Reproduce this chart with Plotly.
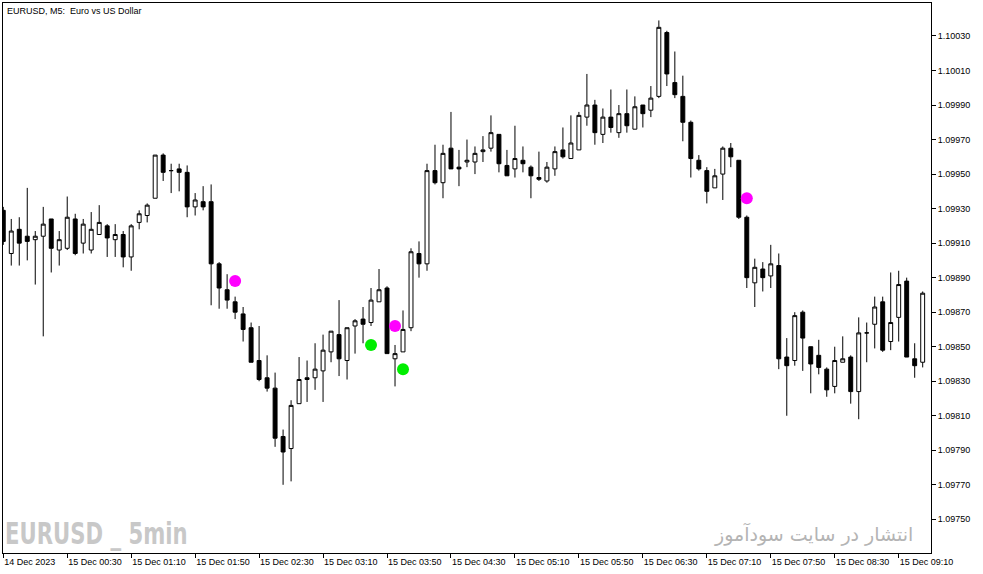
import plotly.graph_objects as go
import pandas as pd

# ---- data (EURUSD M5) ----
bar_times = pd.date_range("2023-12-14 23:50", periods=116, freq="5min")

opens = [1.09929, 1.09904, 1.09918, 1.09914, 1.09912, 1.09914, 1.09924, 1.09906, 1.09907, 1.09924,
         1.09910, 1.09906, 1.09915, 1.09920, 1.09912, 1.09915, 1.09902, 1.09922, 1.09926, 1.09936,
         1.09961, 1.09952, 1.09953, 1.09951, 1.09931, 1.09934, 1.09934, 1.09898, 1.09883, 1.09876,
         1.09869, 1.09861, 1.09842, 1.09832, 1.09826, 1.09798, 1.09791, 1.09817, 1.09832, 1.09832,
         1.09836, 1.09847, 1.09857, 1.09842, 1.09862, 1.09866, 1.09864, 1.09876, 1.09884, 1.09843,
         1.09847, 1.09861, 1.09904, 1.09898, 1.09952, 1.09945, 1.09965, 1.09954, 1.09957, 1.09957,
         1.09963, 1.09965, 1.09973, 1.09955, 1.09953, 1.09958, 1.09954, 1.09948, 1.09946, 1.09953,
         1.09964, 1.09959, 1.09964, 1.09983, 1.09990, 1.09973, 1.09983, 1.09974, 1.09985, 1.09976,
         1.09990, 1.09987, 1.09995, 1.10032, 1.10003, 1.09995, 1.09980, 1.09958, 1.09952, 1.09942,
         1.09950, 1.09965, 1.09958, 1.09925, 1.09887, 1.09895, 1.09891, 1.09897, 1.09844, 1.09842,
         1.09870, 1.09850, 1.09845, 1.09837, 1.09827, 1.09841, 1.09844, 1.09824, 1.09858, 1.09863,
         1.09876, 1.09853, 1.09867, 1.09888, 1.09843, 1.09841]
highs = [1.09931, 1.09924, 1.09925, 1.09942, 1.09917, 1.09931, 1.09924, 1.09917, 1.09937, 1.09927,
         1.09924, 1.09928, 1.09932, 1.09921, 1.09921, 1.09917, 1.09921, 1.09929, 1.09933, 1.09961,
         1.09962, 1.09956, 1.09956, 1.09955, 1.09939, 1.09943, 1.09944, 1.09899, 1.09892, 1.09879,
         1.09873, 1.09864, 1.09862, 1.09845, 1.09835, 1.09802, 1.09819, 1.09844, 1.09842, 1.09852,
         1.09857, 1.09859, 1.09877, 1.09861, 1.09866, 1.09873, 1.09884, 1.09895, 1.09885, 1.09851,
         1.09871, 1.09907, 1.09911, 1.09956, 1.09967, 1.09967, 1.09986, 1.09964, 1.09970, 1.09966,
         1.09972, 1.09984, 1.09973, 1.09964, 1.09978, 1.09966, 1.09955, 1.09963, 1.09957, 1.09966,
         1.09977, 1.09984, 1.09986, 1.10008, 1.09993, 1.09988, 1.09999, 1.09990, 1.09999, 1.09995,
         1.09990, 1.10001, 1.10039, 1.10033, 1.10021, 1.10007, 1.09981, 1.09961, 1.09954, 1.09953,
         1.09966, 1.09968, 1.09958, 1.09926, 1.09901, 1.09899, 1.09909, 1.09904, 1.09855, 1.09870,
         1.09871, 1.09850, 1.09854, 1.09838, 1.09850, 1.09856, 1.09845, 1.09867, 1.09864, 1.09879,
         1.09879, 1.09893, 1.09894, 1.09890, 1.09852, 1.09882]
lows = [1.09909, 1.09897, 1.09897, 1.09900, 1.09886, 1.09856, 1.09893, 1.09897, 1.09906, 1.09903,
        1.09904, 1.09904, 1.09915, 1.09902, 1.09902, 1.09896, 1.09894, 1.09918, 1.09922, 1.09936,
        1.09946, 1.09939, 1.09940, 1.09925, 1.09926, 1.09929, 1.09874, 1.09872, 1.09872, 1.09866,
        1.09853, 1.09841, 1.09830, 1.09824, 1.09792, 1.09770, 1.09772, 1.09817, 1.09818, 1.09825,
        1.09818, 1.09841, 1.09833, 1.09831, 1.09846, 1.09852, 1.09862, 1.09876, 1.09846, 1.09827,
        1.09847, 1.09859, 1.09890, 1.09894, 1.09944, 1.09936, 1.09953, 1.09943, 1.09954, 1.09950,
        1.09957, 1.09963, 1.09951, 1.09949, 1.09948, 1.09951, 1.09936, 1.09946, 1.09945, 1.09949,
        1.09959, 1.09959, 1.09964, 1.09978, 1.09967, 1.09968, 1.09974, 1.09971, 1.09974, 1.09976,
        1.09977, 1.09983, 1.09994, 1.10001, 1.09994, 1.09969, 1.09948, 1.09952, 1.09933, 1.09942,
        1.09935, 1.09954, 1.09924, 1.09884, 1.09873, 1.09882, 1.09884, 1.09837, 1.09810, 1.09839,
        1.09836, 1.09823, 1.09834, 1.09821, 1.09823, 1.09841, 1.09817, 1.09808, 1.09841, 1.09849,
        1.09847, 1.09848, 1.09853, 1.09844, 1.09832, 1.09838]
closes = [1.09911, 1.09917, 1.09910, 1.09911, 1.09914, 1.09921, 1.09907, 1.09912, 1.09925, 1.09904,
          1.09921, 1.09918, 1.09922, 1.09913, 1.09915, 1.09902, 1.09920, 1.09927, 1.09932, 1.09961,
          1.09951, 1.09952, 1.09951, 1.09931, 1.09935, 1.09931, 1.09898, 1.09884, 1.09877, 1.09870,
          1.09860, 1.09841, 1.09831, 1.09826, 1.09797, 1.09789, 1.09816, 1.09831, 1.09831, 1.09837,
          1.09848, 1.09859, 1.09843, 1.09861, 1.09865, 1.09863, 1.09877, 1.09883, 1.09846, 1.09846,
          1.09860, 1.09905, 1.09898, 1.09952, 1.09945, 1.09962, 1.09953, 1.09953, 1.09958, 1.09962,
          1.09964, 1.09974, 1.09956, 1.09949, 1.09959, 1.09956, 1.09949, 1.09947, 1.09954, 1.09963,
          1.09960, 1.09968, 1.09984, 1.09990, 1.09974, 1.09983, 1.09977, 1.09985, 1.09978, 1.09989,
          1.09985, 1.09994, 1.10035, 1.10008, 1.09996, 1.09980, 1.09959, 1.09953, 1.09940, 1.09949,
          1.09965, 1.09960, 1.09925, 1.09890, 1.09896, 1.09890, 1.09898, 1.09843, 1.09839, 1.09868,
          1.09855, 1.09840, 1.09838, 1.09825, 1.09842, 1.09843, 1.09824, 1.09858, 1.09858, 1.09873,
          1.09848, 1.09864, 1.09886, 1.09844, 1.09839, 1.09881]

magenta_times = ["2023-12-15 02:15", "2023-12-15 03:55", "2023-12-15 07:35"]
magenta_prices = [1.09888, 1.09862, 1.09936]
green_times = ["2023-12-15 03:40", "2023-12-15 04:00"]
green_prices = [1.09851, 1.09837]

tick_times = ["2023-12-14 23:50", "2023-12-15 00:30", "2023-12-15 01:10", "2023-12-15 01:50",
              "2023-12-15 02:30", "2023-12-15 03:10", "2023-12-15 03:50", "2023-12-15 04:30",
              "2023-12-15 05:10", "2023-12-15 05:50", "2023-12-15 06:30", "2023-12-15 07:10",
              "2023-12-15 07:50", "2023-12-15 08:30", "2023-12-15 09:10"]
tick_text = ["14 Dec 2023", "15 Dec 00:30", "15 Dec 01:10", "15 Dec 01:50", "15 Dec 02:30",
             "15 Dec 03:10", "15 Dec 03:50", "15 Dec 04:30", "15 Dec 05:10", "15 Dec 05:50",
             "15 Dec 06:30", "15 Dec 07:10", "15 Dec 07:50", "15 Dec 08:30", "15 Dec 09:10"]

title_text = "EURUSD, M5:\u00a0 Euro vs US Dollar"
watermark_left = "EURUSD _ 5min"
watermark_right = "انتشار در سایت سودآموز"

# ---- figure ----
fig = go.Figure()
fig.add_trace(go.Candlestick(
    x=bar_times, open=opens, high=highs, low=lows, close=closes,
    increasing=dict(line=dict(color="black", width=1), fillcolor="white"),
    decreasing=dict(line=dict(color="black", width=1), fillcolor="black"),
    whiskerwidth=0, hoverinfo="skip",
))
fig.add_trace(go.Scatter(x=magenta_times, y=magenta_prices, mode="markers",
                         marker=dict(size=12, color="#ff00ff", line=dict(width=0)), hoverinfo="skip"))
fig.add_trace(go.Scatter(x=green_times, y=green_prices, mode="markers",
                         marker=dict(size=12, color="#00ee00", line=dict(width=0)), hoverinfo="skip"))

tick_font = dict(family="Liberation Sans, Arial, sans-serif", size=9, color="black")

fig.update_layout(
    width=983, height=574,
    margin=dict(l=3, r=52, t=3, b=21),
    paper_bgcolor="white", plot_bgcolor="white",
    showlegend=False,
    xaxis=dict(
        type="date",
        range=["2023-12-14 23:49:50", "2023-12-15 09:30:12"],
        rangeslider=dict(visible=False),
        tickmode="array", tickvals=tick_times, ticktext=tick_text,
        ticks="outside", ticklen=4, tickwidth=1, tickcolor="black",
        ticklabelposition="outside right",
        showgrid=False, zeroline=False,
        showline=True, linecolor="black", linewidth=1, mirror=True,
        tickfont=tick_font,
    ),
    yaxis=dict(
        side="right",
        range=[1.097305, 1.100491],
        tick0=1.0975, dtick=0.0002, tickformat=".5f",
        ticks="outside", ticklen=4, tickwidth=1, tickcolor="black",
        showgrid=False, zeroline=False,
        showline=True, linecolor="black", linewidth=1, mirror=True,
        tickfont=tick_font,
    ),
    annotations=[
        dict(text=title_text, xref="paper", yref="paper", x=0.002, y=0.998,
             xanchor="left", yanchor="top", showarrow=False,
             font=dict(family="Liberation Sans, Arial, sans-serif", size=9, color="black")),
        dict(text="<b>" + watermark_left + "</b>", xref="paper", yref="paper", x=0.0, y=0.036,
             xanchor="left", yanchor="middle", showarrow=False,
             font=dict(family="DejaVu Sans Condensed, Liberation Sans Narrow, sans-serif",
                       size=31, color="#c8c8c8")),
        dict(text=watermark_right, xref="paper", yref="paper", x=0.9828, y=0.034,
             xanchor="right", yanchor="middle", showarrow=False,
             font=dict(family="DejaVu Sans, sans-serif", size=19, color="#b4b4b4")),
    ],
)

post_js = """
document.body.style.margin='0';
document.body.style.overflow='hidden';
var gd = document.getElementById('{plot_id}');
gd.querySelectorAll('text.annotation-text').forEach(function(el){
  if (el.textContent.indexOf('EURUSD _') === 0) {
    el.style.transformBox = 'fill-box';
    el.style.transformOrigin = '0% 50%';
    el.style.transform = 'scaleX(0.76)';
  }
});
"""

fig.write_html("out.html", config={"displayModeBar": False}, post_script=post_js)
